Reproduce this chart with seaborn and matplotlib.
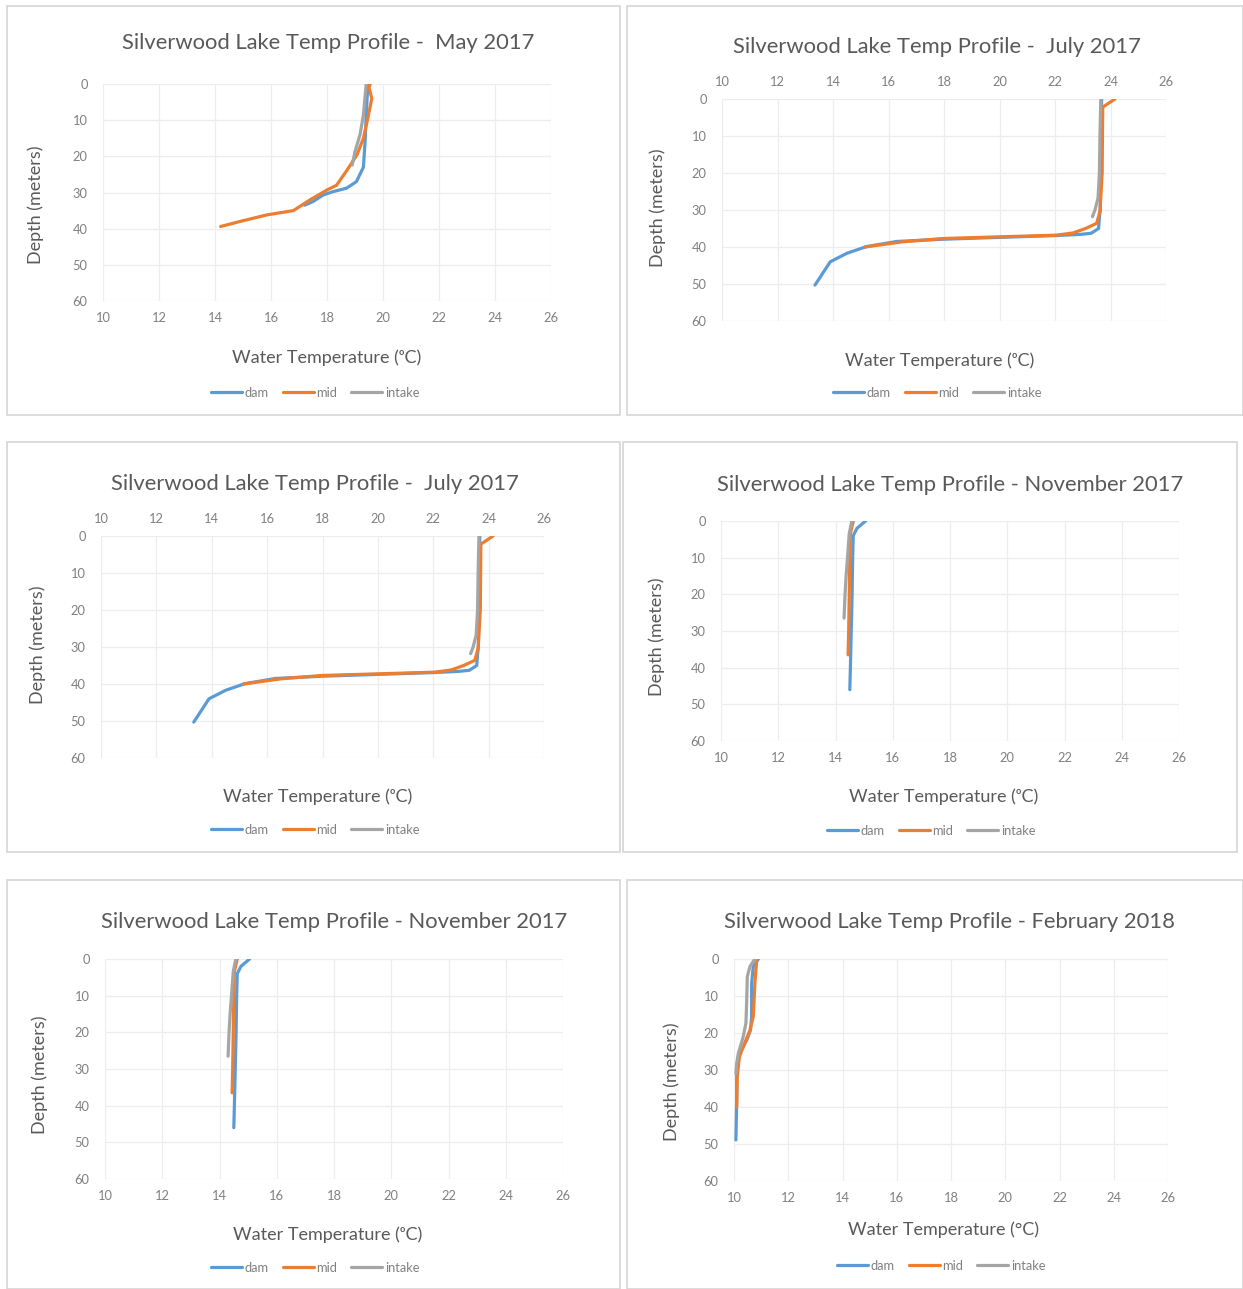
import numpy as np
import pandas as pd
import matplotlib
matplotlib.use("Agg")
import matplotlib.pyplot as plt
import seaborn as sns
from matplotlib.patches import Rectangle
from matplotlib.lines import Line2D

# ---------------- data: depth (m) and water temperature (degC) per station ----------------
may_dam_depth = [0, 8.6, 16, 23, 27, 28.8, 29.8, 30.7, 32.5, 33.5]
may_dam_temp = [19.46, 19.4, 19.36, 19.3, 19.05, 18.7, 18.2, 17.86, 17.5, 17.2]
may_mid_depth = [0, 1, 4, 9.4, 15, 19.6, 24, 28, 29.3, 32, 35, 36.2, 38, 39.4]
may_mid_temp = [19.54, 19.5, 19.6, 19.46, 19.3, 19.07, 18.7, 18.34, 18.0, 17.4, 16.8, 15.85, 14.9, 14.2]
may_intake_depth = [0, 8.6, 14, 18.7, 22.4]
may_intake_temp = [19.4, 19.3, 19.18, 19.0, 18.9]

jul_dam_depth = [0, 5, 10, 20, 30, 32, 35, 36.3, 36.6, 36.9, 37.4, 37.9, 38.5, 39.9, 41.7, 44, 50.3]
jul_dam_temp = [23.68, 23.67, 23.66, 23.65, 23.63, 23.6, 23.57, 23.3, 22.9, 22.06, 20.0, 17.97, 16.3, 15.2, 14.5, 13.9, 13.35]
jul_mid_depth = [0, 2.2, 10, 20, 30.4, 33.6, 35, 36.2, 36.8, 37.7, 38.6, 40]
jul_mid_temp = [24.16, 23.72, 23.71, 23.7, 23.62, 23.5, 23.1, 22.65, 22.06, 17.98, 16.5, 15.15]
jul_intake_depth = [0, 10, 20, 26.8, 30, 31.8]
jul_intake_temp = [23.65, 23.62, 23.6, 23.55, 23.44, 23.35]

nov_dam_depth = [0, 2, 4, 10, 20, 30, 40, 46]
nov_dam_temp = [15.05, 14.75, 14.62, 14.6, 14.58, 14.55, 14.52, 14.5]
nov_mid_depth = [0, 3.4, 10, 20, 30, 36.5]
nov_mid_temp = [14.62, 14.52, 14.5, 14.48, 14.46, 14.44]
nov_intake_depth = [0, 3.4, 10, 15, 20.6, 26.5]
nov_intake_temp = [14.57, 14.48, 14.42, 14.37, 14.33, 14.3]

feb_dam_depth = [0, 2, 6.6, 15.6, 19.2, 21.9, 24.6, 26.4, 30, 38, 48.9]
feb_dam_temp = [10.9, 10.71, 10.65, 10.65, 10.61, 10.47, 10.28, 10.16, 10.1, 10.1, 10.07]
feb_mid_depth = [0, 6.6, 15.6, 19.2, 23.7, 26.4, 31.8, 39.9]
feb_mid_temp = [10.84, 10.77, 10.71, 10.59, 10.34, 10.2, 10.12, 10.1]
feb_intake_depth = [0, 2, 4.8, 11, 17.3, 21, 25.5, 28.2, 31]
feb_intake_temp = [10.77, 10.59, 10.49, 10.47, 10.44, 10.34, 10.16, 10.1, 10.07]

sites = ["dam", "mid", "intake"]
temp_ticks = list(range(10, 27, 2))
depth_ticks = list(range(0, 61, 10))

# ---------------- styling ----------------
sns.set_theme(style="white")
plt.rcParams['font.family'] = ['Lato', 'DejaVu Sans']

W, H = 1243, 1289
fig = plt.figure(figsize=(W / 100, H / 100), dpi=100)
fig.patch.set_facecolor("white")

COLORS = {"dam": "#5B9BD5", "mid": "#ED7D31", "intake": "#A5A5A5"}
TEXT = "#595959"
TICK = "#808080"
GRID = "#EDEDED"


def fx(x):
    return x / W


def fy(y):
    return 1 - y / H


def draw_panel(box, axbox, title, title_xy, xlabel, xlabel_xy, ylabel_xy,
               legend_xy, series, xticks_top):
    # chart frame
    fig.patches.append(Rectangle((fx(box[0]), fy(box[3])),
                                 (box[2] - box[0]) / W, (box[3] - box[1]) / H,
                                 transform=fig.transFigure, fill=False,
                                 edgecolor="#D6D6D6", lw=1.2))
    x0, y0, x1, y1 = axbox
    ax = fig.add_axes([fx(x0), fy(y1), (x1 - x0) / W, (y1 - y0) / H])

    frames = [pd.DataFrame({"depth": d, "temp": t, "site": s})
              for s, (d, t) in zip(sites, series)]
    df = pd.concat(frames, ignore_index=True)
    sns.lineplot(data=df, x="temp", y="depth", hue="site", hue_order=sites,
                 palette=COLORS, sort=False, estimator=None, lw=2.3,
                 ax=ax, legend=False)

    ax.set_xlim(10, 26)
    ax.set_ylim(60, 0)
    ax.set_xticks(temp_ticks)
    ax.set_yticks(depth_ticks)
    ax.grid(True, color=GRID, lw=0.9)
    ax.set_axisbelow(True)
    for sp in ax.spines.values():
        sp.set_visible(False)
    ax.set_facecolor("none")
    if xticks_top:
        ax.xaxis.tick_top()
    ax.tick_params(axis="x", length=0, labelsize=9.3, colors=TICK, pad=8)
    ax.tick_params(axis="y", length=0, labelsize=9.3, colors=TICK, pad=11)
    ax.set_xlabel("")
    ax.set_ylabel("")

    fig.text(fx(title_xy[0]), fy(title_xy[1]), title, ha="center", va="center",
             fontsize=15.8, color=TEXT)
    fig.text(fx(xlabel_xy[0]), fy(xlabel_xy[1]), xlabel, ha="center",
             va="center", fontsize=13, color=TEXT)
    fig.text(fx(ylabel_xy[0]), fy(ylabel_xy[1]), "Depth (meters)", ha="center",
             va="center", rotation=90, fontsize=13, color=TEXT)

    handles = [Line2D([], [], color=COLORS[s], lw=2.3) for s in sites]
    fig.legend(handles, sites, loc="center",
               bbox_to_anchor=(fx(legend_xy[0]), fy(legend_xy[1])),
               ncol=3, frameon=False, fontsize=9.3, labelcolor=TICK,
               handlelength=2.4, handletextpad=0.2, columnspacing=1.1)


xl_sup = "Water Temperature (\u1d52C)"
xl_deg = "Water Temperature (\u00b0C)"

may = [(may_dam_depth, may_dam_temp), (may_mid_depth, may_mid_temp),
       (may_intake_depth, may_intake_temp)]
jul = [(jul_dam_depth, jul_dam_temp), (jul_mid_depth, jul_mid_temp),
       (jul_intake_depth, jul_intake_temp)]
nov = [(nov_dam_depth, nov_dam_temp), (nov_mid_depth, nov_mid_temp),
       (nov_intake_depth, nov_intake_temp)]
feb = [(feb_dam_depth, feb_dam_temp), (feb_mid_depth, feb_mid_temp),
       (feb_intake_depth, feb_intake_temp)]

draw_panel((7, 6, 620, 415), (103, 84, 551, 301),
           "Silverwood Lake Temp Profile -  May 2017", (328, 43),
           xl_sup, (327, 358), (36, 205), (315, 393), may, False)
draw_panel((627, 6, 1243, 415), (722, 99, 1166, 321),
           "Silverwood Lake Temp Profile -  July 2017", (937, 47),
           xl_sup, (940, 361), (658, 208), (937, 393), jul, True)
draw_panel((7, 442, 620, 852), (101, 536, 544, 758),
           "Silverwood Lake Temp Profile -  July 2017", (315, 484),
           xl_sup, (318, 797), (38, 645), (315, 830), jul, True)
draw_panel((623, 442, 1237, 852), (721, 521, 1179, 741),
           "Silverwood Lake Temp Profile - November 2017", (950, 485),
           xl_sup, (944, 797), (657, 637), (931, 831), nov, False)
draw_panel((7, 880, 620, 1289), (105, 959, 563, 1179),
           "Silverwood Lake Temp Profile - November 2017", (334, 922),
           xl_sup, (328, 1235), (40, 1075), (315, 1268), nov, False)
draw_panel((627, 880, 1243, 1289), (734, 959, 1168, 1181),
           "Silverwood Lake Temp Profile - February 2018", (950, 922),
           xl_deg, (943, 1230), (672, 1082), (941, 1266), feb, False)

fig.savefig("out.png", dpi=100, facecolor="white")
